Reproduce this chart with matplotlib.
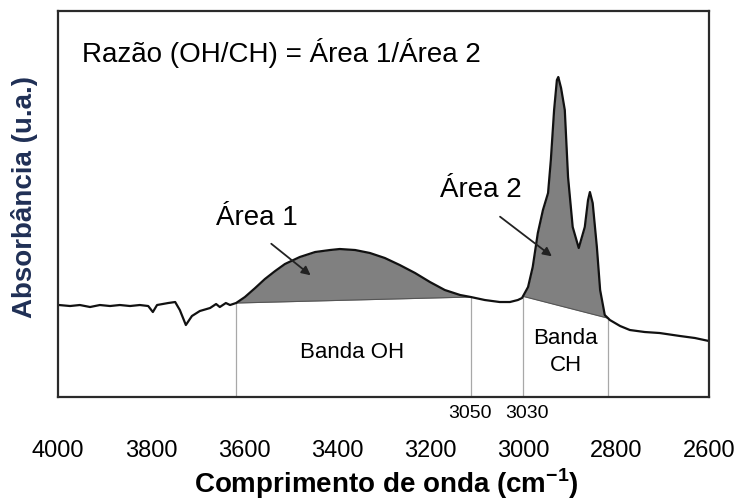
import numpy as np
import matplotlib
matplotlib.use("Agg")
import matplotlib.pyplot as plt

plt.rcParams["font.family"] = ["Liberation Sans", "DejaVu Sans"]
plt.rcParams["mathtext.fontset"] = "custom"
plt.rcParams["mathtext.rm"] = "Liberation Sans"
plt.rcParams["mathtext.bf"] = "Liberation Sans:bold"

# spectrum (wavenumber in cm-1, absorbance in a.u.)
wavenumber = [3998, 3974, 3953, 3931, 3910, 3888, 3867, 3845, 3824, 3806,
              3796, 3787, 3763, 3748, 3738, 3725, 3712, 3695, 3673, 3660,
              3652, 3639, 3630, 3617, 3598, 3576, 3555, 3533, 3512, 3480,
              3447, 3415, 3394, 3361, 3329, 3297, 3265, 3232, 3200, 3168,
              3135, 3112, 3082, 3050, 3028, 3011, 3002, 2989, 2979, 2968,
              2957, 2946, 2940, 2933, 2927, 2924, 2918, 2910, 2903, 2893,
              2880, 2867, 2860, 2856, 2850, 2841, 2834, 2824, 2813, 2791,
              2770, 2738, 2706, 2662, 2630, 2600]
absorbance = [0.90, 0.89, 0.90, 0.88, 0.90, 0.89, 0.90, 0.89, 0.90, 0.89,
              0.83, 0.90, 0.92, 0.93, 0.85, 0.70, 0.79, 0.84, 0.87, 0.91,
              0.88, 0.92, 0.90, 0.92, 0.98, 1.07, 1.16, 1.24, 1.31, 1.38,
              1.43, 1.45, 1.46, 1.45, 1.42, 1.37, 1.30, 1.22, 1.13, 1.05,
              1.00, 0.98, 0.95, 0.93, 0.93, 0.95, 0.97, 1.08, 1.28, 1.62,
              1.85, 2.02, 2.35, 2.85, 3.15, 3.18, 3.07, 2.85, 2.18, 1.68,
              1.47, 1.68, 1.95, 2.03, 1.92, 1.48, 1.05, 0.80, 0.75, 0.69,
              0.65, 0.63, 0.62, 0.59, 0.57, 0.54]

band_oh = (3617, 3112)
band_ch = (3000, 2817)
edge_labels = ["3050", "3030"]
edge_label_x = [3114, 2991]

xticks = [4000, 3800, 3600, 3400, 3200, 3000, 2800, 2600]

w = np.array(wavenumber)[::-1]
a = np.array(absorbance)[::-1]


def curve_at(x):
    return np.interp(x, w, a)


def shade_band(ax, x1, x2):
    lo, hi = min(x1, x2), max(x1, x2)
    xs = np.linspace(lo, hi, 300)
    ys = curve_at(xs)
    base = np.interp(xs, [lo, hi], [curve_at(lo), curve_at(hi)])
    ax.fill_between(xs, base, ys, color="#808080", lw=0)
    ax.plot([x1, x2], [curve_at(x1), curve_at(x2)], color="#555555", lw=0.8)


fig = plt.figure(figsize=(7.38, 5.03), dpi=100)
ax = fig.add_axes([0.0786, 0.2107, 0.882, 0.7674])

shade_band(ax, *band_oh)
shade_band(ax, *band_ch)

# thin band edge lines
for xe in list(band_oh) + list(band_ch):
    ax.plot([xe, xe], [-0.02, curve_at(xe)], color="#a8a8a8", lw=0.9)

ax.plot(wavenumber, absorbance, color="#111111", lw=1.6)

ax.set_xlim(4000, 2600)
ax.set_ylim(-0.02, 3.84)
ax.set_yticks([])
ax.set_xticks(xticks)
ax.set_xticklabels([str(t) for t in xticks], fontsize=17)
ax.tick_params(axis="x", length=0, pad=31)
for s in ax.spines.values():
    s.set_color("#2a2a2a")
    s.set_linewidth(1.6)

for lbl, xl in zip(edge_labels, edge_label_x):
    ax.text(xl, -0.18, lbl, ha="center", va="center", fontsize=14,
            clip_on=False)

ax.text(0.037, 0.891, "Razão (OH/CH) = Área 1/Área 2", transform=ax.transAxes,
        fontsize=20, va="center", ha="left")

ax.text(3572, 1.77, "Área 1", fontsize=20, ha="center", va="center")
ax.text(3090, 2.05, "Área 2", fontsize=20, ha="center", va="center")
ax.annotate("", xy=(3452, 1.18), xytext=(3546, 1.53),
            arrowprops=dict(arrowstyle="-|>", color="#222222", lw=1.3,
                            mutation_scale=13))
ax.annotate("", xy=(2933, 1.37), xytext=(3054, 1.80),
            arrowprops=dict(arrowstyle="-|>", color="#222222", lw=1.3,
                            mutation_scale=13))

ax.text(3368, 0.43, "Banda OH", fontsize=16, ha="center", va="center")
ax.text(2908, 0.43, "Banda\nCH", fontsize=16, ha="center", va="center",
        linespacing=1.4)

fig.text(25 / 738, 1 - 197 / 503, "Absorbância (u.a.)", rotation=90,
         ha="center", va="center", fontsize=20, fontweight="bold",
         color="#1f2f55")
fig.text(386 / 738, 1 - 484 / 503, r"Comprimento de onda (cm$^{\mathbf{-1}}$)",
         ha="center", va="center", fontsize=20, fontweight="bold")

fig.savefig("out.png", dpi=100)
